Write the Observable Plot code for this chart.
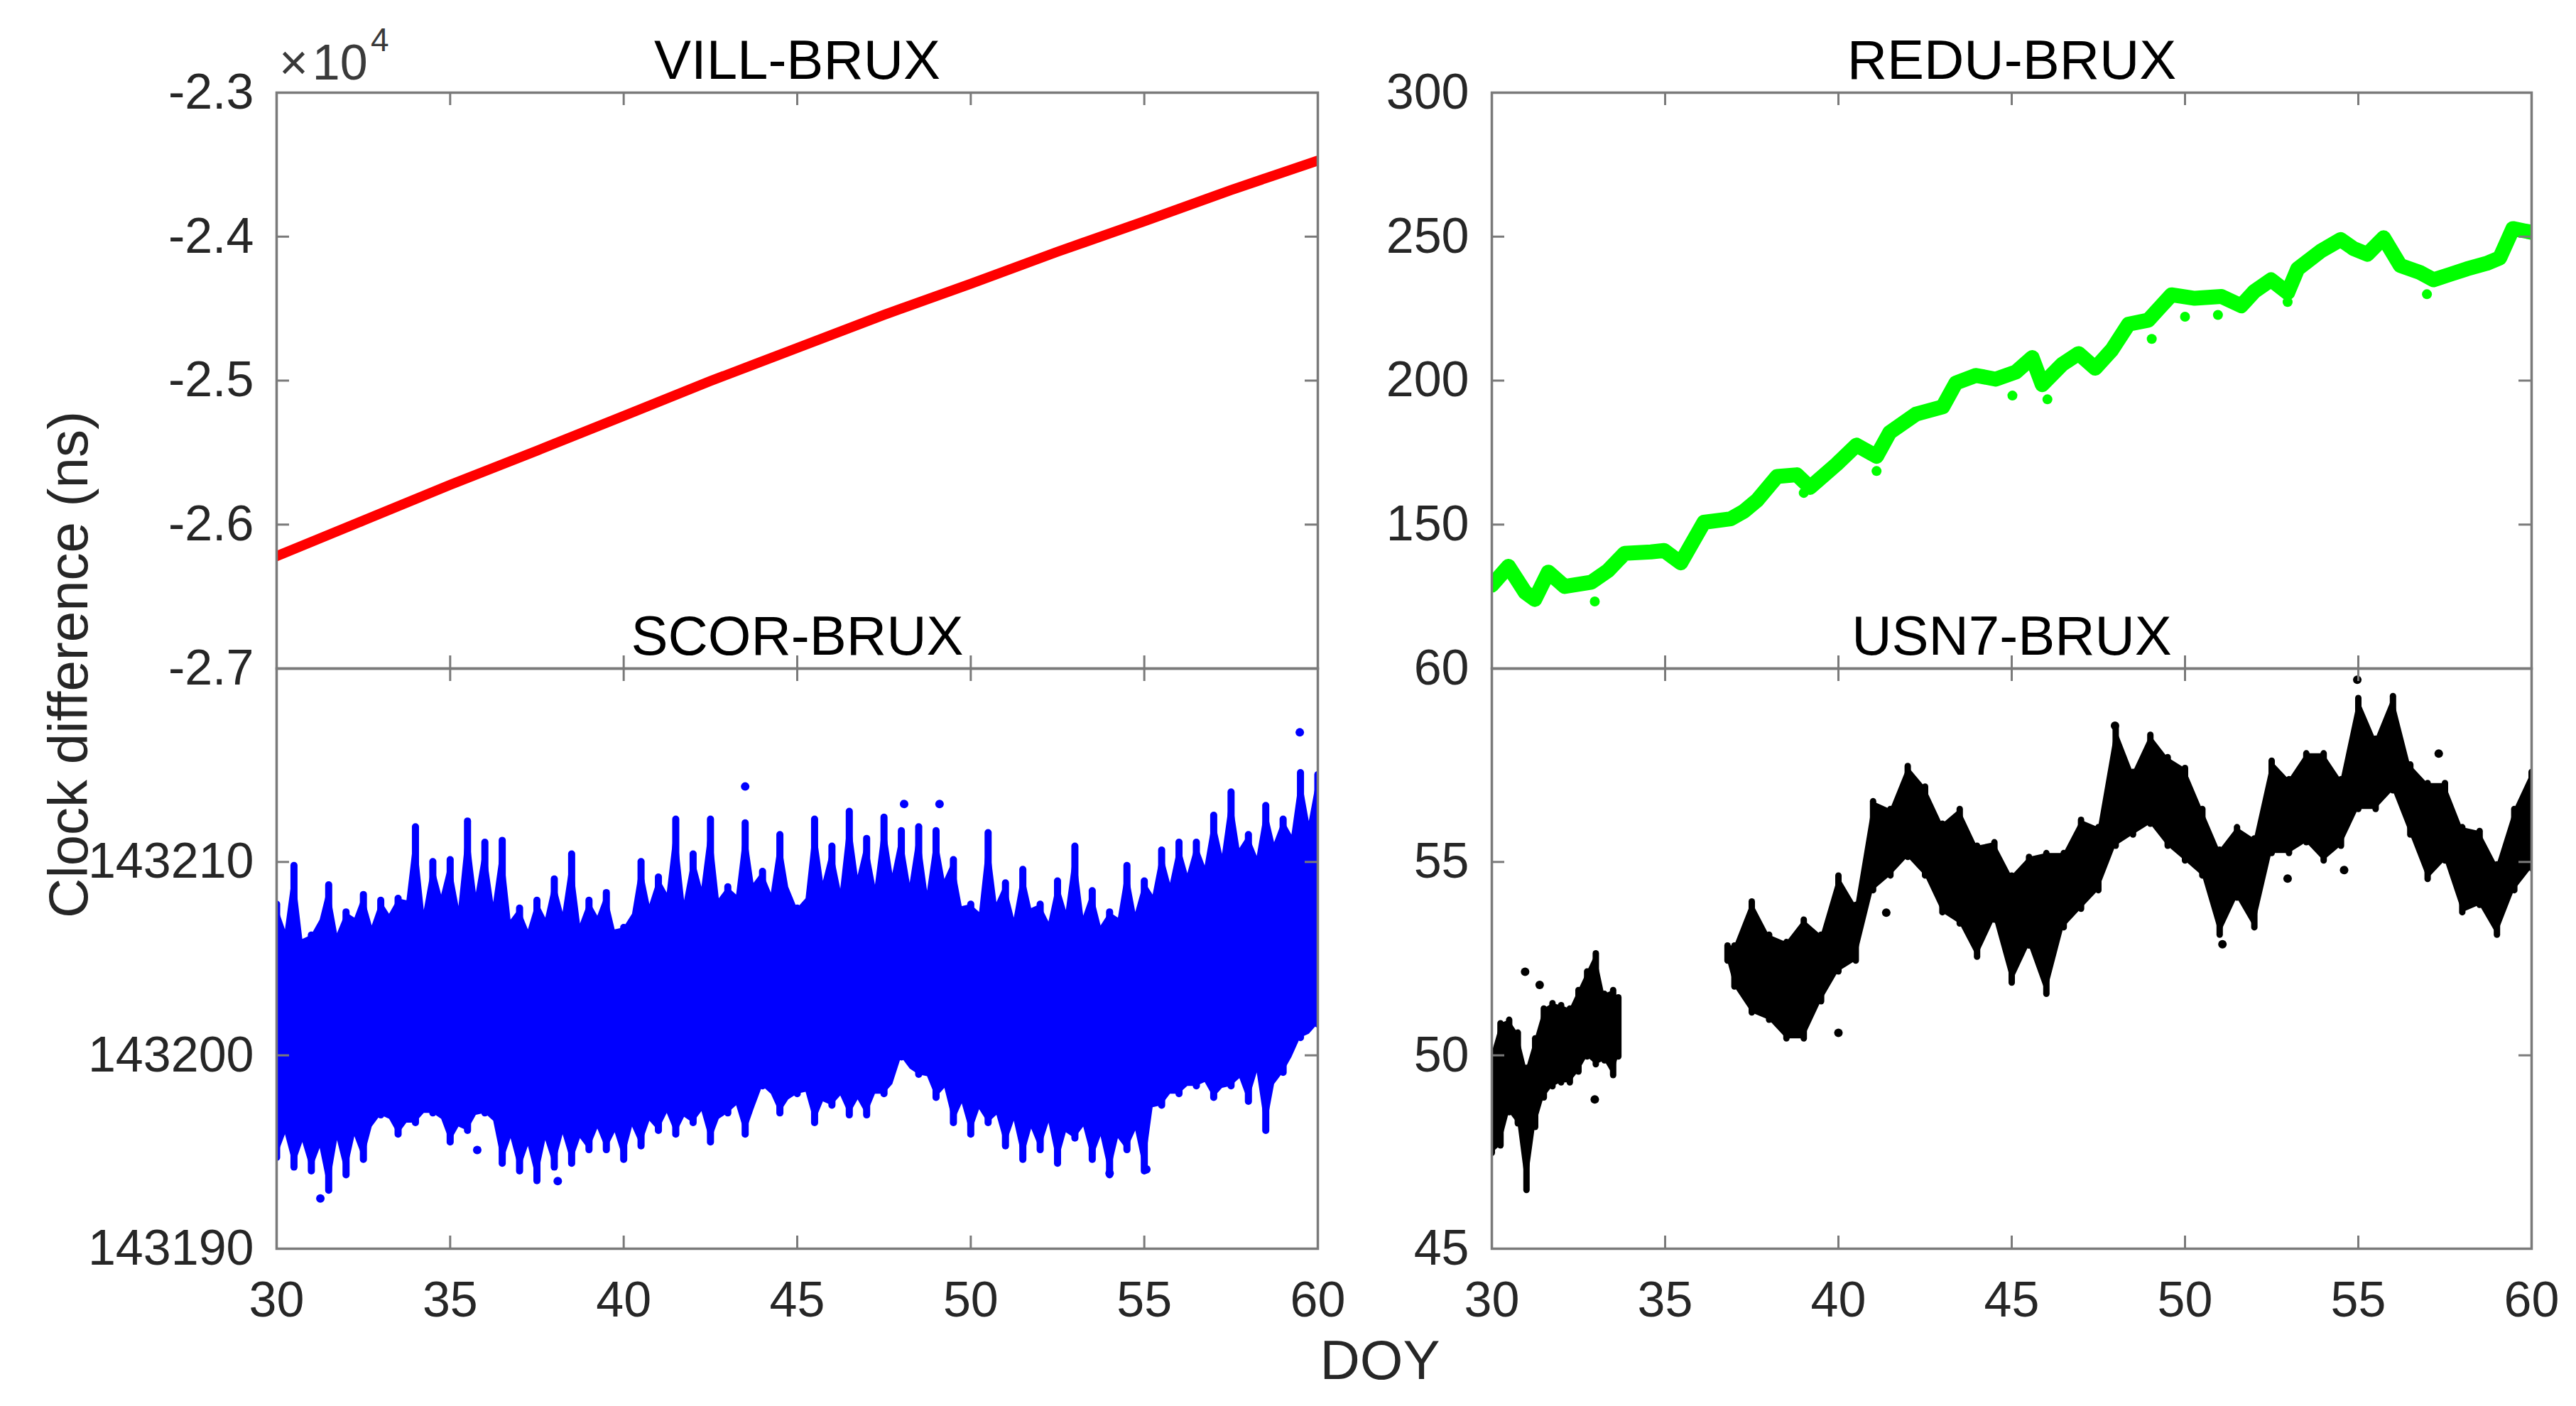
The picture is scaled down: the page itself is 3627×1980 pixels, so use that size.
<!DOCTYPE html>
<html><head><meta charset="utf-8">
<script src="https://cdn.jsdelivr.net/npm/d3@7"></script>
<script src="https://cdn.jsdelivr.net/npm/@observablehq/plot@0.6"></script>
<style>
html,body{margin:0;padding:0;background:#fff;}
#fig{position:relative;width:3627px;height:1980px;overflow:hidden;background:#fff;font-family:"Liberation Sans",Arial,sans-serif;}
.panel{position:absolute;}
.lbl{position:absolute;white-space:nowrap;color:#262626;font-family:"Liberation Sans",Arial,sans-serif;}
</style></head><body><div id="fig"></div>
<script>
// ---------- data ----------
const doyTicks = [30, 35, 40, 45, 50, 55, 60];

// VILL-BRUX (ns)
const villDoy = [30, 32.5, 35, 37.5, 40, 42.5, 45, 47.5, 50, 52.5, 55, 57.5, 60];
const villNs = [-26219, -25972, -25724, -25487, -25245, -25003, -24773, -24543, -24327, -24105, -23893, -23676, -23472];
const villTicks = [-27000, -26000, -25000, -24000, -23000];

// REDU-BRUX (ns)
const reduDoy = [30, 30.48, 30.96, 31.24, 31.63, 32.10, 32.87, 33.35, 33.83, 34.59, 34.97, 35.45, 36.12, 36.89, 37.27, 37.65, 38.23, 38.80, 39.18, 39.95, 40.52, 41.10, 41.48, 42.24, 43.01, 43.39, 43.97, 44.54, 45.12, 45.59, 45.88, 46.45, 46.93, 47.41, 47.89, 48.37, 48.94, 49.61, 50.28, 51.05, 51.62, 52.00, 52.48, 52.96, 53.25, 53.92, 54.49, 54.87, 55.26, 55.73, 56.21, 56.79, 57.17, 57.65, 58.13, 58.70, 59.08, 59.46, 60];
const reduNs = [129, 135.5, 126.5, 124, 133.5, 128.5, 130, 134, 140, 140.5, 141, 136.7, 150.8, 152, 154.6, 158.4, 166.7, 167.3, 162.9, 171, 177.6, 173.7, 182, 188.4, 190.9, 199.2, 201.8, 200.5, 203, 208, 198.6, 205.6, 209.4, 204.3, 210.7, 219.6, 221, 229.8, 228.6, 229.2, 226, 231, 235, 230.5, 238.8, 245, 249, 245.8, 243.9, 249.6, 240, 237.5, 235, 236.9, 238.8, 240.7, 242.6, 252.8, 251.5];
const reduOutDoy = [32.97, 39.0, 41.1, 45.02, 46.03, 49.04, 50.0, 50.95, 52.96, 56.98];
const reduOutNs = [123.3, 161, 168.6, 194.8, 193.5, 214.5, 222.2, 222.8, 227.3, 230];
const reduTickMarks = [100, 150, 200, 250, 300];
const reduTickLabels = [150, 200, 250, 300];

// SCOR-BRUX (ns): spike extremes of the dense scatter, every half day
const scorDoy = d3.range(30, 60.001, 0.5);
const scorHi = [143207.8, 143209.8, 143206.2, 143208.8, 143207.4, 143208.3, 143208.0, 143208.1, 143211.8, 143210.0,
  143210.1, 143212.1, 143211.0, 143211.1, 143207.6, 143208.0, 143209.1, 143210.4, 143208.0, 143208.4,
  143206.6, 143210.0, 143209.2, 143212.2, 143210.4, 143212.2, 143208.7, 143212.0, 143209.5, 143211.4,
  143207.6, 143212.2, 143210.8, 143212.6, 143211.2, 143212.3, 143211.6, 143211.8, 143211.6, 143210.1,
  143207.8, 143211.5, 143208.9, 143209.6, 143207.8, 143209.0, 143210.8, 143208.5, 143207.4, 143209.8,
  143209.0, 143210.6, 143211.0, 143211.0, 143212.4, 143213.6, 143211.4, 143212.9, 143212.2, 143214.6, 143214.5];
const scorLo = [143194.7, 143194.2, 143194.0, 143193.0, 143193.8, 143194.6, 143196.9, 143195.9, 143196.5, 143197.0,
  143195.5, 143196.1, 143197.0, 143194.4, 143194.0, 143193.5, 143194.2, 143194.4, 143195.1, 143195.1,
  143194.6, 143195.3, 143196.1, 143195.9, 143196.5, 143195.5, 143197.0, 143195.9, 143198.4, 143197.0,
  143198.0, 143196.5, 143197.4, 143196.9, 143196.9, 143198.0, 143199.9, 143199.0, 143197.8, 143196.5,
  143195.9, 143196.5, 143195.3, 143194.6, 143195.1, 143194.4, 143195.7, 143194.6, 143193.8, 143195.1,
  143194.0, 143197.4, 143198.0, 143198.4, 143197.8, 143198.4, 143197.6, 143196.1, 143199.1, 143200.9, 143201.6];
// edge of the solid part of the scatter between spikes (quarter-day offsets)
const scorMidDoy = d3.range(30.25, 60, 0.5);
const scorMidHi = [143206.5, 143206.0, 143207.0, 143206.3, 143207.1, 143206.7, 143207.3, 143208.0, 143207.5, 143208.3,
  143207.7, 143208.4, 143207.9, 143207.0, 143206.5, 143207.1, 143207.4, 143206.8, 143207.2, 143206.5,
  143207.3, 143207.8, 143208.4, 143208.0, 143208.7, 143208.1, 143208.3, 143208.9, 143208.4, 143208.7,
  143208.1, 143209.0, 143208.6, 143209.3, 143208.8, 143209.4, 143208.9, 143208.5, 143209.1, 143207.7,
  143207.4, 143207.9, 143207.1, 143207.6, 143206.9, 143207.5, 143207.2, 143206.7, 143207.1, 143207.4,
  143208.3, 143208.9, 143209.4, 143209.8, 143210.4, 143210.7, 143210.3, 143211.0, 143211.4, 143212.1];
const scorMidLo = [143195.9, 143195.5, 143195.2, 143195.6, 143195.8, 143196.3, 143196.7, 143196.5, 143197.0, 143196.7,
  143196.3, 143196.9, 143196.6, 143195.7, 143195.3, 143195.6, 143195.9, 143195.7, 143196.2, 143196.0,
  143196.3, 143196.6, 143197.0, 143196.8, 143197.1, 143196.7, 143197.4, 143197.2, 143198.0, 143197.7,
  143198.1, 143197.6, 143197.9, 143197.7, 143198.0, 143198.5, 143199.3, 143198.9, 143198.3, 143197.5,
  143197.2, 143196.9, 143196.6, 143196.2, 143196.5, 143196.0, 143196.3, 143195.8, 143195.7, 143196.1,
  143197.3, 143198.0, 143198.4, 143198.6, 143198.3, 143198.8, 143199.1, 143198.5, 143199.9, 143201.1];
const scorOutDoy = [31.26, 35.78, 38.1, 43.5, 48.08, 49.1, 54.0, 55.06, 59.48];
const scorOutNs = [143192.6, 143195.1, 143193.5, 143213.9, 143213.0, 143213.0, 143193.9, 143194.1, 143216.7];
const scorTickMarks = [143190, 143200, 143210, 143220];
const scorTickLabels = [143190, 143200, 143210];

// USN7-BRUX (ns): spread of the dense scatter, two data segments
const usn1Doy = [30, 30.25, 30.5, 30.75, 31, 31.25, 31.5, 31.75, 32, 32.25, 32.5, 32.75, 33, 33.25, 33.5, 33.65];
const usn1Hi = [50.05, 50.82, 50.91, 50.58, 49.67, 50.43, 51.20, 51.34, 51.29, 51.20, 51.68, 52.16, 52.63, 51.58, 51.68, 51.49];
const usn1Lo = [47.47, 47.66, 48.52, 48.23, 46.51, 48.14, 48.90, 49.19, 49.29, 49.29, 49.57, 49.96, 49.76, 49.86, 49.48, 49.96];
const usn2Doy = [36.8, ...d3.range(37, 60.001, 0.5)];
const usn2Hi = [52.83, 52.83, 53.97, 53.11, 52.92, 53.50, 53.11, 54.64, 53.88, 56.56, 56.36, 57.47, 56.94, 55.98, 56.36, 55.41,
  55.50, 54.64, 55.12, 55.22, 55.22, 56.08, 55.89, 58.47, 57.32, 58.28, 57.70, 57.42, 56.36, 55.31, 55.89, 55.60,
  57.61, 57.13, 57.80, 57.80, 57.13, 59.23, 58.18, 59.28, 57.51, 57.03, 57.03, 55.89, 55.79, 54.93, 56.36, 57.32];
const usn2Lo = [52.44, 51.77, 51.10, 50.91, 50.43, 50.43, 51.39, 52.16, 52.44, 54.26, 54.64, 55.12, 54.64, 53.69, 53.40, 52.54,
  53.50, 51.87, 52.83, 51.58, 53.30, 53.78, 54.26, 55.41, 55.70, 55.98, 55.41, 55.03, 54.64, 53.11, 54.07, 53.30,
  55.22, 55.22, 55.50, 55.03, 55.41, 56.36, 56.36, 56.84, 55.70, 54.55, 55.03, 53.69, 53.88, 53.11, 54.26, 54.83];
const usnOutDoy = [30.96, 31.38, 32.97, 40.0, 41.38, 47.98, 51.08, 52.96, 54.59, 54.97, 57.32];
const usnOutNs = [52.16, 51.82, 48.86, 50.58, 53.69, 58.52, 52.87, 54.57, 54.79, 59.71, 57.80];
const usnTicks = [45, 50, 55, 60];

// ---------- helpers ----------
const zip = (xs, cols) => xs.map((x, i) => { const o = {doy: x}; for (const k in cols) o[k] = cols[k][i]; return o; });
const AXIS = "#7a7a7a";
const FONT = "'Liberation Sans', Arial, sans-serif";
const fig = document.getElementById("fig");

function panel({x0, x1, y0, y1, ydomain, tickMarks, tickLabels, tickFormat, xlabels, title, marks}) {
  const ML = 300, MR = 30, MT = 110, MB = xlabels ? 150 : 30;
  const iw = x1 - x0, ih = y1 - y0, TL = 18;
  const chart = Plot.plot({
    width: ML + iw + MR, height: MT + ih + MB,
    marginLeft: ML, marginRight: MR, marginTop: MT, marginBottom: MB,
    x: {domain: [30, 60], axis: null},
    y: {domain: ydomain, axis: null},
    style: {background: "transparent", overflow: "visible", fontFamily: FONT, fontSize: "70px", color: "#262626", maxWidth: "none"},
    marks: [
      ...marks,
      Plot.frame({stroke: AXIS, strokeWidth: 3.5}),
      Plot.ruleX(doyTicks, {x: d => d, stroke: AXIS, strokeWidth: 3, insetTop: ih - TL}),
      Plot.ruleX(doyTicks, {x: d => d, stroke: AXIS, strokeWidth: 3, insetBottom: ih - TL}),
      Plot.ruleY(tickMarks, {y: d => d, stroke: AXIS, strokeWidth: 3, insetRight: iw - TL}),
      Plot.ruleY(tickMarks, {y: d => d, stroke: AXIS, strokeWidth: 3, insetLeft: iw - TL}),
      Plot.axisY({anchor: "left", ticks: tickLabels, tickSize: 0, tickPadding: 32, tickFormat, label: null}),
      xlabels ? Plot.axisX({anchor: "bottom", ticks: doyTicks, tickSize: 0, tickPadding: 46, tickFormat: d => String(d), label: null}) : null,
      Plot.text([title], {frameAnchor: "top", lineAnchor: "bottom", dy: -20, fontSize: 78, fill: "#000", text: d => d})
    ]
  });
  chart.classList.add("panel");
  chart.style.left = (x0 - ML) + "px";
  chart.style.top = (y0 - MT) + "px";
  fig.appendChild(chart);
}

const LX = [389, 1855], RX = [2100, 3564], TY = [130, 941], BY = [941, 1758];

// VILL-BRUX
panel({x0: LX[0], x1: LX[1], y0: TY[0], y1: TY[1], ydomain: [-27000, -23000],
  tickMarks: villTicks, tickLabels: villTicks, tickFormat: d => (d / 1e4).toFixed(1),
  xlabels: false, title: "VILL-BRUX",
  marks: [Plot.line(zip(villDoy, {ns: villNs}), {x: "doy", y: "ns", stroke: "#ff0000", strokeWidth: 14, clip: true})]});

// SCOR-BRUX
const scorSpikes = zip(scorDoy, {lo: scorLo, hi: scorHi});
const scorEnvelope = scorSpikes.concat(zip(scorMidDoy, {lo: scorMidLo, hi: scorMidHi})).sort((a, b) => a.doy - b.doy);
panel({x0: LX[0], x1: LX[1], y0: BY[0], y1: BY[1], ydomain: [143190, 143220],
  tickMarks: scorTickMarks, tickLabels: scorTickLabels, tickFormat: d => String(d),
  xlabels: true, title: "SCOR-BRUX",
  marks: [
    Plot.areaY(scorEnvelope, {x: "doy", y1: "lo", y2: "hi", fill: "#0000ff", clip: true}),
    Plot.ruleX(scorSpikes, {x: "doy", y1: "lo", y2: "hi", stroke: "#0000ff", strokeWidth: 10, strokeLinecap: "round", clip: true}),
    Plot.dot(zip(scorOutDoy, {ns: scorOutNs}), {x: "doy", y: "ns", r: 6, fill: "#0000ff", stroke: "none"})
  ]});

// REDU-BRUX
panel({x0: RX[0], x1: RX[1], y0: TY[0], y1: TY[1], ydomain: [100, 300],
  tickMarks: reduTickMarks, tickLabels: reduTickLabels, tickFormat: d => String(d),
  xlabels: false, title: "REDU-BRUX",
  marks: [
    Plot.line(zip(reduDoy, {ns: reduNs}), {x: "doy", y: "ns", stroke: "#00ff00", strokeWidth: 21, clip: true}),
    Plot.dot(zip(reduOutDoy, {ns: reduOutNs}), {x: "doy", y: "ns", r: 7, fill: "#00ff00", stroke: "none"})
  ]});

// USN7-BRUX
const usn1 = zip(usn1Doy, {lo: usn1Lo, hi: usn1Hi});
const usn2 = zip(usn2Doy, {lo: usn2Lo, hi: usn2Hi});
panel({x0: RX[0], x1: RX[1], y0: BY[0], y1: BY[1], ydomain: [45, 60],
  tickMarks: usnTicks, tickLabels: usnTicks, tickFormat: d => String(d),
  xlabels: true, title: "USN7-BRUX",
  marks: [
    Plot.areaY(usn1, {x: "doy", y1: "lo", y2: "hi", fill: "#000", clip: true}),
    Plot.areaY(usn2, {x: "doy", y1: "lo", y2: "hi", fill: "#000", clip: true}),
    Plot.ruleX(usn1, {x: "doy", y1: "lo", y2: "hi", stroke: "#000", strokeWidth: 9, strokeLinecap: "round", clip: true}),
    Plot.ruleX(usn2, {x: "doy", y1: "lo", y2: "hi", stroke: "#000", strokeWidth: 9, strokeLinecap: "round", clip: true}),
    Plot.dot(zip(usnOutDoy, {ns: usnOutNs}), {x: "doy", y: "ns", r: 6, fill: "#000", stroke: "none"})
  ]});

// ---------- shared labels ----------
function label(html, css) {
  const d = document.createElement("div");
  d.className = "lbl";
  d.innerHTML = html;
  Object.assign(d.style, css);
  fig.appendChild(d);
}
label("Clock difference (ns)", {left: "96px", top: "936px", fontSize: "78px", lineHeight: "78px", transform: "translate(-50%,-50%) rotate(-90deg)"});
label("DOY", {left: "1943px", top: "1876px", fontSize: "78px", lineHeight: "78px", transform: "translateX(-50%)"});
label("\u00d7\u200a10", {left: "393px", top: "53px", fontSize: "70px", lineHeight: "70px", color: "#3a3a3a"});
label("4", {left: "522px", top: "33px", fontSize: "46px", lineHeight: "46px", color: "#3a3a3a"});
</script></body></html>
